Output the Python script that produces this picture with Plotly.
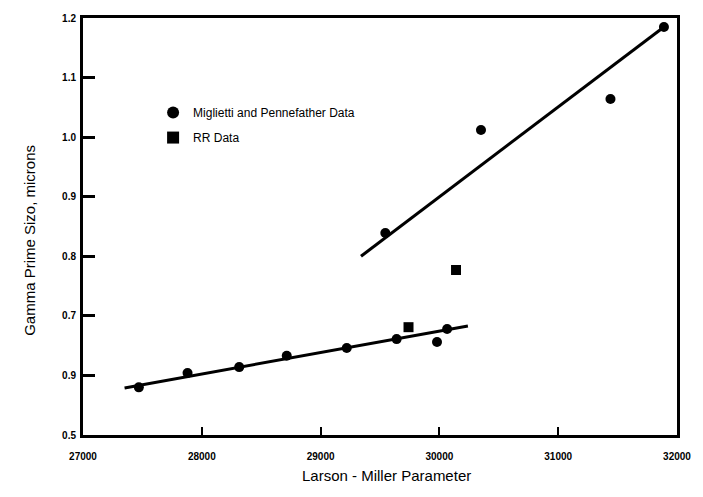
import plotly.graph_objects as go

# Data
mp_x = [27470, 27880, 28315, 28715, 29220, 29640, 29980, 30065, 29545, 30350, 31440, 31890]
mp_y = [0.580, 0.604, 0.614, 0.633, 0.646, 0.661, 0.656, 0.678, 0.839, 1.012, 1.064, 1.185]
rr_x = [29740, 30140]
rr_y = [0.681, 0.777]
fit_low_x = [27350, 30240]
fit_low_y = [0.579, 0.683]
fit_high_x = [29340, 31890]
fit_high_y = [0.800, 1.185]

x_ticks = [27000, 28000, 29000, 30000, 31000, 32000]
x_tick_labels = ["27000", "28000", "29000", "30000", "31000", "32000"]
y_ticks = [0.5, 0.6, 0.7, 0.8, 0.9, 1.0, 1.1, 1.2]
y_tick_labels = ["0.5", "0.9", "0.7", "0.8", "0.9", "1.0", "1.1", "1.2"]

FONT = "Arial, Liberation Sans, sans-serif"

fig = go.Figure()
fig.add_trace(go.Scatter(x=fit_low_x, y=fit_low_y, mode="lines",
                         line=dict(color="black", width=3), showlegend=False))
fig.add_trace(go.Scatter(x=fit_high_x, y=fit_high_y, mode="lines",
                         line=dict(color="black", width=3), showlegend=False))
fig.add_trace(go.Scatter(x=mp_x, y=mp_y, mode="markers",
                         name="Miglietti and Pennefather Data", legendgroup="a",
                         marker=dict(symbol="circle", size=10, color="black")))
fig.add_trace(go.Scatter(x=rr_x, y=rr_y, mode="markers", name="RR Data",
                         legendgroup="b",
                         marker=dict(symbol="square", size=10, color="black")))

fig.update_layout(
    width=703, height=497,
    margin=dict(l=83, r=23, t=18, b=62),
    paper_bgcolor="white", plot_bgcolor="white",
    font=dict(family=FONT, color="black"),
    legend=dict(x=0.118, y=0.808, xanchor="left", yanchor="top",
                bgcolor="rgba(0,0,0,0)", font=dict(size=12, family=FONT),
                itemsizing="constant", tracegroupgap=6, itemwidth=30),
    xaxis=dict(range=[27000, 32000], tickvals=x_ticks, ticktext=x_tick_labels,
               showgrid=False, zeroline=False, showline=True, linecolor="black",
               linewidth=3, mirror=True, ticks="inside", ticklen=8, tickwidth=2,
               tickcolor="black", ticklabelstandoff=10,
               tickfont=dict(size=10, family=FONT, weight="bold")),
    yaxis=dict(range=[0.5, 1.2], tickvals=y_ticks, ticktext=y_tick_labels,
               showgrid=False, zeroline=False, showline=True, linecolor="black",
               linewidth=3, mirror=True, ticks="inside", ticklen=12, tickwidth=3,
               tickcolor="black", ticklabelstandoff=2,
               tickfont=dict(size=10, family=FONT, weight="bold")),
    annotations=[
        dict(text="Larson - Miller Parameter", x=388, y=486, xref="paper", yref="paper",
             showarrow=False, font=dict(size=15, family=FONT)),
        dict(text="Gamma Prime Sizo, microns", x=18, y=240, xref="paper", yref="paper",
             showarrow=False, textangle=-90, font=dict(size=15, family=FONT)),
    ],
)

# convert pixel positions of annotations to paper coordinates
pw = 703 - 83 - 23
ph = 497 - 18 - 62
for a in fig.layout.annotations:
    px, py = a.x, a.y
    a.x = (px - 83) / pw
    a.y = (497 - 62 - py) / ph

fig.write_html("out.html")
